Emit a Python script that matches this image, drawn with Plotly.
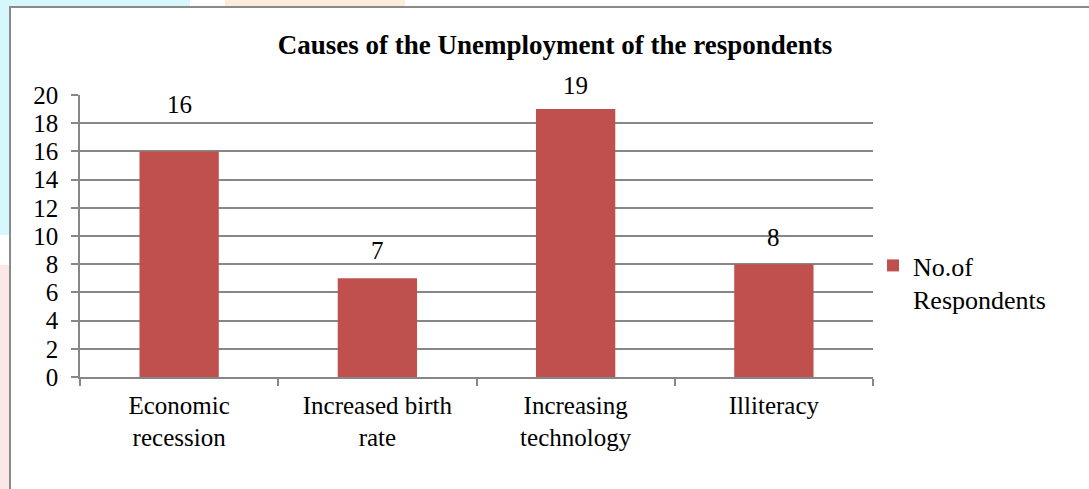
import plotly.graph_objects as go

categories = ["Economic<br>recession", "Increased birth<br>rate", "Increasing<br>technology", "Illiteracy"]
values = [16, 7, 19, 8]
series_name = "No.of<br>Respondents"
y_ticks = [0, 2, 4, 6, 8, 10, 12, 14, 16, 18, 20]
label_shift = [47, 28, 24, 27]

W, H = 1089, 489
FONT = "'Liberation Serif', 'Times New Roman', Times, serif"
GRID = "#878787"
ML, MR, MT, MB = 80, 216, 95, 112
pw, ph = W - ML - MR, H - MT - MB


def px_x(x):
    return (x - ML) / pw


def px_y(y):
    return (H - MB - y) / ph


fig = go.Figure()
fig.add_trace(go.Bar(
    x=categories, y=values, name=series_name,
    marker=dict(color="#C0504D", line=dict(width=0)),
    width=0.4, showlegend=True,
))

for c, v, s in zip(categories, values, label_shift):
    fig.add_annotation(x=c, y=v, text=str(v), showarrow=False, yshift=s,
                       xref="x", yref="y", font=dict(family=FONT, size=25, color="black"))

fig.update_layout(
    width=W, height=H,
    margin=dict(l=ML, r=MR, t=MT, b=MB),
    paper_bgcolor="white", plot_bgcolor="white",
    font=dict(family=FONT, size=25, color="black"),
    title=dict(text="<b>Causes of the Unemployment of the respondents</b>",
               x=555 / W, xanchor="center", xref="container",
               y=1 - 45 / H, yanchor="middle", yref="container",
               font=dict(family=FONT, size=27, color="black")),
    legend=dict(x=1.0, y=px_y(242), xanchor="left", yanchor="top", valign="top",
                font=dict(family=FONT, size=26, color="black"),
                itemwidth=30, bgcolor="rgba(0,0,0,0)"),
    xaxis=dict(showgrid=False, showline=True, linecolor=GRID, linewidth=1.5,
               ticks="outside", tickson="boundaries", ticklen=7, tickcolor=GRID,
               tickwidth=1.5, ticklabelstandoff=5,
               tickfont=dict(family=FONT, size=25, color="black")),
    yaxis=dict(range=[0, 20], tickvals=y_ticks, showgrid=True, gridcolor=GRID,
               gridwidth=1.5, showline=True, linecolor=GRID, linewidth=1.5,
               ticks="outside", ticklen=7, tickcolor=GRID, tickwidth=1.5,
               ticklabelstandoff=8,
               tickfont=dict(family=FONT, size=25, color="black"), zeroline=False),
)

# faint background strips outside the chart frame
for (x0, y0, x1, y1, col) in [
    (0, 0, 10, 235, "#d6f7fb"),
    (0, 265, 10, 489, "#fde6e6"),
    (0, 0, 190, 7, "#d6f7fb"),
    (225, 0, 405, 7, "#fdebdc"),
]:
    fig.add_shape(type="rect", xref="paper", yref="paper",
                  x0=px_x(x0), x1=px_x(x1), y0=px_y(y1), y1=px_y(y0),
                  line=dict(width=0), fillcolor=col, layer="below")

# chart frame
fig.add_shape(type="rect", xref="paper", yref="paper",
              x0=px_x(10), x1=px_x(W + 5), y0=px_y(H + 5), y1=px_y(7),
              line=dict(color="#8a8a8a", width=2), fillcolor="white", layer="below")

fig.write_html("out.html", config={"displayModeBar": False},
               post_script="document.body.style.margin='0';")
